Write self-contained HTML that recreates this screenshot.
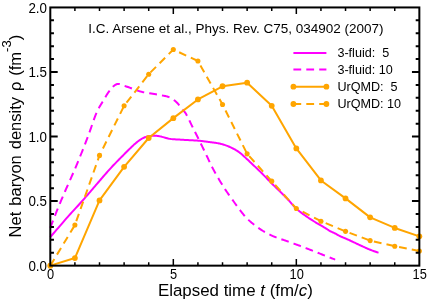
<!DOCTYPE html><html><head><meta charset="utf-8"><title>Net baryon density</title><style>html,body{margin:0;padding:0;background:#fff}svg{display:block}text{filter:grayscale(1)}text{font-family:"Liberation Sans",sans-serif;fill:#000}</style></head><body>
<svg width="429" height="303" viewBox="0 0 429 303">
<rect width="429" height="303" fill="#fff"/>
<g fill="none" stroke-linejoin="round" stroke-width="2.00">
<path d="M50.30 237.05 L51.17 236.05 L52.27 234.77 L53.57 233.26 L55.03 231.56 L56.61 229.72 L58.28 227.78 L60.00 225.79 L61.73 223.79 L63.43 221.83 L65.07 219.94 L66.61 218.18 L68.01 216.59 L69.31 215.14 L70.57 213.75 L71.78 212.41 L72.96 211.13 L74.12 209.88 L75.26 208.65 L76.38 207.44 L77.50 206.23 L78.62 205.01 L79.74 203.78 L80.88 202.52 L82.04 201.23 L83.21 199.90 L84.38 198.57 L85.54 197.22 L86.71 195.87 L87.88 194.51 L89.05 193.14 L90.22 191.78 L91.39 190.41 L92.56 189.04 L93.72 187.68 L94.89 186.32 L96.06 184.96 L97.23 183.61 L98.40 182.24 L99.57 180.87 L100.75 179.50 L101.92 178.13 L103.09 176.76 L104.26 175.41 L105.43 174.06 L106.60 172.72 L107.76 171.40 L108.93 170.10 L110.09 168.82 L111.25 167.56 L112.43 166.31 L113.61 165.06 L114.79 163.83 L115.97 162.61 L117.14 161.40 L118.31 160.21 L119.46 159.05 L120.60 157.90 L121.71 156.78 L122.80 155.69 L123.86 154.62 L124.90 153.58 L125.93 152.55 L126.95 151.53 L127.95 150.53 L128.93 149.55 L129.89 148.60 L130.83 147.67 L131.76 146.79 L132.65 145.94 L133.52 145.13 L134.37 144.36 L135.18 143.65 L135.96 142.99 L136.70 142.37 L137.42 141.80 L138.10 141.27 L138.76 140.78 L139.39 140.32 L140.02 139.89 L140.63 139.49 L141.24 139.11 L141.84 138.76 L142.44 138.42 L143.05 138.10 L143.66 137.80 L144.24 137.53 L144.81 137.29 L145.37 137.08 L145.92 136.89 L146.47 136.72 L147.02 136.57 L147.57 136.44 L148.14 136.32 L148.72 136.22 L149.32 136.12 L149.94 136.03 L150.58 135.95 L151.21 135.88 L151.85 135.82 L152.49 135.78 L153.15 135.74 L153.82 135.73 L154.50 135.73 L155.21 135.75 L155.94 135.79 L156.70 135.85 L157.49 135.93 L158.31 136.03 L159.18 136.18 L160.09 136.37 L161.05 136.59 L162.04 136.85 L163.05 137.12 L164.08 137.41 L165.11 137.69 L166.15 137.97 L167.17 138.24 L168.18 138.49 L169.17 138.70 L170.12 138.87 L171.02 139.01 L171.87 139.12 L172.69 139.21 L173.48 139.28 L174.26 139.33 L175.05 139.37 L175.86 139.41 L176.71 139.45 L177.60 139.49 L178.55 139.53 L179.58 139.58 L180.70 139.65 L181.94 139.73 L183.31 139.81 L184.79 139.89 L186.34 139.97 L187.94 140.06 L189.55 140.15 L191.17 140.24 L192.74 140.33 L194.26 140.42 L195.69 140.51 L197.00 140.59 L198.17 140.68 L199.19 140.77 L200.08 140.85 L200.88 140.93 L201.59 141.01 L202.24 141.09 L202.86 141.17 L203.45 141.25 L204.03 141.33 L204.64 141.42 L205.29 141.51 L205.99 141.61 L206.78 141.71 L207.63 141.82 L208.54 141.93 L209.49 142.05 L210.46 142.16 L211.45 142.28 L212.45 142.41 L213.45 142.54 L214.44 142.67 L215.41 142.81 L216.35 142.95 L217.25 143.11 L218.09 143.26 L218.90 143.42 L219.66 143.59 L220.39 143.75 L221.10 143.92 L221.79 144.10 L222.46 144.28 L223.12 144.47 L223.78 144.67 L224.44 144.88 L225.10 145.10 L225.77 145.34 L226.46 145.59 L227.17 145.86 L227.89 146.15 L228.63 146.46 L229.37 146.78 L230.11 147.12 L230.84 147.46 L231.57 147.80 L232.27 148.15 L232.96 148.49 L233.62 148.82 L234.24 149.15 L234.82 149.46 L235.37 149.75 L235.86 150.03 L236.32 150.30 L236.76 150.56 L237.17 150.81 L237.56 151.07 L237.95 151.33 L238.33 151.60 L238.72 151.89 L239.12 152.19 L239.55 152.51 L239.99 152.86 L240.43 153.20 L240.84 153.53 L241.23 153.85 L241.60 154.17 L241.99 154.51 L242.39 154.86 L242.82 155.26 L243.30 155.69 L243.83 156.19 L244.43 156.75 L245.12 157.38 L245.90 158.11 L246.78 158.93 L247.76 159.85 L248.83 160.85 L249.97 161.91 L251.16 163.03 L252.40 164.20 L253.67 165.40 L254.95 166.61 L256.22 167.83 L257.49 169.05 L258.73 170.24 L259.92 171.41 L261.11 172.58 L262.34 173.81 L263.60 175.08 L264.87 176.36 L266.14 177.65 L267.39 178.94 L268.62 180.19 L269.82 181.41 L270.96 182.58 L272.03 183.68 L273.03 184.69 L273.94 185.61 L274.75 186.41 L275.47 187.12 L276.11 187.74 L276.68 188.30 L277.20 188.79 L277.68 189.26 L278.14 189.69 L278.59 190.12 L279.05 190.56 L279.52 191.02 L280.03 191.51 L280.59 192.06 L281.17 192.65 L281.77 193.24 L282.37 193.83 L282.97 194.44 L283.59 195.05 L284.20 195.67 L284.82 196.29 L285.44 196.93 L286.07 197.57 L286.70 198.22 L287.33 198.88 L287.97 199.55 L288.60 200.24 L289.23 200.95 L289.87 201.67 L290.50 202.41 L291.14 203.16 L291.78 203.91 L292.43 204.66 L293.09 205.41 L293.76 206.15 L294.44 206.87 L295.13 207.57 L295.84 208.25 L296.57 208.91 L297.31 209.56 L298.06 210.20 L298.83 210.82 L299.61 211.44 L300.39 212.05 L301.19 212.65 L301.98 213.24 L302.78 213.83 L303.59 214.41 L304.39 214.98 L305.19 215.56 L305.99 216.13 L306.80 216.69 L307.61 217.24 L308.43 217.79 L309.24 218.34 L310.07 218.87 L310.89 219.40 L311.71 219.93 L312.54 220.46 L313.37 220.98 L314.20 221.50 L315.03 222.01 L315.88 222.54 L316.76 223.07 L317.66 223.60 L318.57 224.14 L319.48 224.67 L320.38 225.19 L321.27 225.71 L322.13 226.20 L322.95 226.68 L323.73 227.13 L324.46 227.56 L325.12 227.95 L325.71 228.31 L326.24 228.64 L326.71 228.94 L327.13 229.22 L327.52 229.48 L327.89 229.72 L328.23 229.95 L328.57 230.17 L328.91 230.39 L329.27 230.61 L329.64 230.82 L330.04 231.05 L330.46 231.28 L330.89 231.50 L331.33 231.71 L331.76 231.91 L332.20 232.11 L332.64 232.31 L333.08 232.51 L333.51 232.70 L333.94 232.90 L334.37 233.10 L334.79 233.30 L335.21 233.50 L335.61 233.72 L336.01 233.93 L336.40 234.15 L336.78 234.37 L337.16 234.59 L337.54 234.81 L337.92 235.03 L338.30 235.25 L338.69 235.46 L339.08 235.68 L339.48 235.88 L339.88 236.09 L340.30 236.28 L340.72 236.47 L341.14 236.66 L341.58 236.85 L342.01 237.03 L342.45 237.21 L342.89 237.39 L343.33 237.56 L343.76 237.74 L344.20 237.92 L344.62 238.10 L345.05 238.28 L345.45 238.46 L345.82 238.62 L346.17 238.77 L346.52 238.92 L346.85 239.06 L347.20 239.22 L347.56 239.38 L347.95 239.55 L348.38 239.75 L348.85 239.96 L349.38 240.20 L349.97 240.48 L350.63 240.78 L351.35 241.13 L352.13 241.50 L352.95 241.89 L353.81 242.30 L354.69 242.72 L355.59 243.15 L356.50 243.59 L357.41 244.02 L358.31 244.44 L359.20 244.86 L360.06 245.25 L360.90 245.64 L361.76 246.03 L362.62 246.42 L363.48 246.82 L364.35 247.21 L365.21 247.60 L366.06 247.98 L366.91 248.35 L367.74 248.71 L368.56 249.06 L369.36 249.40 L370.14 249.72 L370.93 250.03 L371.73 250.34 L372.55 250.65 L373.37 250.95 L374.17 251.23 L374.96 251.51 L375.70 251.77 L376.40 252.01 L377.05 252.23 L377.62 252.43 L378.11 252.60 L378.51 252.74" stroke="#ff00ff"/>
<path d="M50.30 227.82 L50.66 226.90 L51.10 225.75 L51.62 224.39 L52.20 222.87 L52.84 221.22 L53.51 219.46 L54.21 217.65 L54.93 215.81 L55.65 213.97 L56.35 212.18 L57.03 210.46 L57.68 208.85 L58.30 207.33 L58.90 205.86 L59.49 204.43 L60.08 203.02 L60.67 201.61 L61.26 200.20 L61.87 198.76 L62.50 197.29 L63.15 195.77 L63.83 194.18 L64.55 192.52 L65.31 190.77 L66.11 188.93 L66.95 187.02 L67.83 185.05 L68.73 183.03 L69.66 180.95 L70.61 178.83 L71.57 176.68 L72.54 174.49 L73.51 172.28 L74.48 170.06 L75.44 167.83 L76.38 165.60 L77.32 163.33 L78.28 161.00 L79.26 158.61 L80.24 156.19 L81.22 153.75 L82.20 151.30 L83.17 148.85 L84.13 146.43 L85.06 144.04 L85.97 141.69 L86.85 139.41 L87.70 137.20 L88.51 135.02 L89.29 132.86 L90.05 130.70 L90.79 128.56 L91.51 126.46 L92.21 124.41 L92.90 122.40 L93.57 120.47 L94.23 118.60 L94.89 116.82 L95.54 115.14 L96.19 113.57 L96.82 112.12 L97.44 110.79 L98.04 109.56 L98.64 108.43 L99.22 107.37 L99.79 106.37 L100.36 105.42 L100.92 104.49 L101.49 103.59 L102.05 102.67 L102.62 101.75 L103.20 100.79 L103.77 99.81 L104.35 98.83 L104.92 97.85 L105.49 96.89 L106.06 95.94 L106.63 95.01 L107.20 94.10 L107.78 93.22 L108.35 92.37 L108.93 91.56 L109.50 90.80 L110.09 90.07 L110.67 89.38 L111.24 88.70 L111.81 88.05 L112.37 87.41 L112.94 86.81 L113.52 86.25 L114.10 85.74 L114.69 85.28 L115.29 84.87 L115.92 84.53 L116.56 84.26 L117.22 84.07 L117.91 83.97 L118.62 83.97 L119.34 84.05 L120.08 84.20 L120.84 84.41 L121.60 84.66 L122.38 84.95 L123.16 85.26 L123.95 85.58 L124.74 85.89 L125.53 86.19 L126.32 86.46 L127.12 86.72 L127.94 87.01 L128.77 87.31 L129.61 87.62 L130.46 87.94 L131.31 88.27 L132.15 88.60 L132.99 88.92 L133.81 89.23 L134.62 89.53 L135.40 89.81 L136.17 90.07 L136.87 90.31 L137.52 90.53 L138.11 90.73 L138.67 90.93 L139.22 91.11 L139.78 91.28 L140.36 91.46 L140.99 91.63 L141.67 91.81 L142.44 92.00 L143.30 92.19 L144.28 92.40 L145.42 92.62 L146.70 92.85 L148.11 93.09 L149.61 93.33 L151.17 93.58 L152.76 93.83 L154.35 94.07 L155.91 94.32 L157.41 94.56 L158.83 94.80 L160.12 95.02 L161.26 95.24 L162.26 95.44 L163.17 95.61 L163.99 95.77 L164.74 95.92 L165.43 96.07 L166.07 96.21 L166.68 96.37 L167.27 96.53 L167.84 96.72 L168.42 96.92 L169.01 97.16 L169.63 97.43 L170.26 97.73 L170.87 98.05 L171.48 98.39 L172.08 98.75 L172.66 99.13 L173.24 99.52 L173.81 99.93 L174.36 100.36 L174.91 100.80 L175.46 101.26 L175.99 101.73 L176.52 102.21 L177.04 102.72 L177.55 103.27 L178.06 103.85 L178.56 104.45 L179.05 105.06 L179.53 105.69 L180.00 106.31 L180.46 106.93 L180.91 107.53 L181.34 108.11 L181.77 108.67 L182.17 109.18 L182.55 109.63 L182.90 110.01 L183.21 110.34 L183.50 110.64 L183.79 110.92 L184.07 111.21 L184.35 111.52 L184.64 111.87 L184.96 112.28 L185.30 112.78 L185.68 113.37 L186.11 114.09 L186.58 114.93 L187.10 115.89 L187.64 116.95 L188.22 118.09 L188.81 119.29 L189.42 120.53 L190.03 121.80 L190.65 123.08 L191.26 124.35 L191.86 125.58 L192.44 126.78 L193.00 127.90 L193.54 128.97 L194.06 130.01 L194.57 131.03 L195.08 132.03 L195.58 133.02 L196.07 134.01 L196.57 135.00 L197.07 135.99 L197.58 137.00 L198.09 138.03 L198.61 139.08 L199.15 140.16 L199.70 141.28 L200.25 142.41 L200.81 143.57 L201.38 144.73 L201.96 145.92 L202.53 147.11 L203.11 148.31 L203.70 149.52 L204.28 150.73 L204.87 151.94 L205.45 153.16 L206.04 154.37 L206.61 155.57 L207.18 156.76 L207.73 157.95 L208.28 159.14 L208.83 160.34 L209.39 161.54 L209.96 162.76 L210.55 163.99 L211.16 165.24 L211.80 166.51 L212.47 167.81 L213.17 169.15 L213.93 170.53 L214.73 171.98 L215.57 173.47 L216.45 175.00 L217.34 176.55 L218.25 178.10 L219.16 179.65 L220.07 181.17 L220.97 182.66 L221.85 184.10 L222.70 185.47 L223.51 186.77 L224.29 188.00 L225.07 189.19 L225.83 190.34 L226.58 191.45 L227.32 192.52 L228.04 193.56 L228.76 194.57 L229.46 195.56 L230.14 196.52 L230.82 197.46 L231.48 198.38 L232.12 199.29 L232.73 200.17 L233.31 201.00 L233.87 201.79 L234.40 202.54 L234.91 203.27 L235.42 203.99 L235.94 204.70 L236.46 205.42 L236.99 206.14 L237.55 206.88 L238.14 207.65 L238.76 208.46 L239.41 209.30 L240.06 210.15 L240.72 211.03 L241.40 211.91 L242.09 212.81 L242.80 213.72 L243.53 214.62 L244.28 215.53 L245.07 216.44 L245.88 217.34 L246.73 218.23 L247.62 219.11 L248.55 219.99 L249.54 220.88 L250.56 221.78 L251.62 222.68 L252.71 223.58 L253.82 224.47 L254.95 225.35 L256.08 226.21 L257.21 227.05 L258.34 227.86 L259.45 228.64 L260.54 229.37 L261.61 230.07 L262.69 230.75 L263.77 231.39 L264.85 232.01 L265.92 232.61 L267.00 233.19 L268.08 233.74 L269.16 234.28 L270.23 234.80 L271.31 235.31 L272.38 235.81 L273.45 236.29 L274.52 236.76 L275.59 237.19 L276.66 237.61 L277.73 238.00 L278.79 238.38 L279.86 238.74 L280.92 239.10 L281.99 239.45 L283.05 239.80 L284.12 240.16 L285.18 240.52 L286.25 240.90 L287.31 241.28 L288.38 241.67 L289.44 242.05 L290.51 242.43 L291.58 242.81 L292.64 243.19 L293.71 243.57 L294.78 243.95 L295.84 244.34 L296.91 244.73 L297.97 245.12 L299.04 245.51 L300.11 245.91 L301.17 246.31 L302.24 246.71 L303.30 247.12 L304.37 247.52 L305.44 247.93 L306.50 248.34 L307.57 248.76 L308.64 249.17 L309.70 249.58 L310.77 250.00 L311.83 250.42 L312.91 250.84 L313.99 251.26 L315.08 251.70 L316.18 252.13 L317.28 252.57 L318.37 253.01 L319.45 253.44 L320.53 253.87 L321.58 254.29 L322.62 254.71 L323.64 255.11 L324.63 255.50 L325.62 255.89 L326.64 256.29 L327.68 256.70 L328.71 257.10 L329.73 257.50 L330.72 257.88 L331.66 258.25 L332.55 258.59 L333.36 258.90 L334.08 259.18 L334.70 259.43 L335.21 259.62" stroke="#ff00ff" stroke-dasharray="7.8 5.1"/>
<path d="M50.30 265.65 L74.90 258.03 L99.51 200.39 L124.11 166.82 L148.71 138.02 L173.32 118.15 L197.92 99.43 L222.52 86.27 L247.13 82.65 L271.73 105.82 L296.33 148.43 L320.94 180.44 L345.54 198.39 L370.14 217.37 L394.75 227.95 L419.35 236.34" stroke="#ffa500"/>
<path d="M50.30 265.65 L74.90 225.05 L99.51 155.40 L124.11 105.82 L148.71 74.19 L173.32 49.54 L197.92 61.03 L222.52 104.46 L247.13 153.85 L271.73 181.15 L296.33 208.46 L320.94 221.18 L345.54 231.37 L370.14 240.60 L394.75 246.21 L419.35 250.93" stroke="#ffa500" stroke-dasharray="7.8 5.1"/>
</g>
<g fill="#ffa500">
<circle cx="50.30" cy="265.65" r="2.90"/>
<circle cx="74.90" cy="258.03" r="2.90"/>
<circle cx="99.51" cy="200.39" r="2.90"/>
<circle cx="124.11" cy="166.82" r="2.90"/>
<circle cx="148.71" cy="138.02" r="2.90"/>
<circle cx="173.32" cy="118.15" r="2.90"/>
<circle cx="197.92" cy="99.43" r="2.90"/>
<circle cx="222.52" cy="86.27" r="2.90"/>
<circle cx="247.13" cy="82.65" r="2.90"/>
<circle cx="271.73" cy="105.82" r="2.90"/>
<circle cx="296.33" cy="148.43" r="2.90"/>
<circle cx="320.94" cy="180.44" r="2.90"/>
<circle cx="345.54" cy="198.39" r="2.90"/>
<circle cx="370.14" cy="217.37" r="2.90"/>
<circle cx="394.75" cy="227.95" r="2.90"/>
<circle cx="419.35" cy="236.34" r="2.90"/>
<circle cx="50.30" cy="265.65" r="2.55"/>
<circle cx="74.90" cy="225.05" r="2.55"/>
<circle cx="99.51" cy="155.40" r="2.55"/>
<circle cx="124.11" cy="105.82" r="2.55"/>
<circle cx="148.71" cy="74.19" r="2.55"/>
<circle cx="173.32" cy="49.54" r="2.55"/>
<circle cx="197.92" cy="61.03" r="2.55"/>
<circle cx="222.52" cy="104.46" r="2.55"/>
<circle cx="247.13" cy="153.85" r="2.55"/>
<circle cx="271.73" cy="181.15" r="2.55"/>
<circle cx="296.33" cy="208.46" r="2.55"/>
<circle cx="320.94" cy="221.18" r="2.55"/>
<circle cx="345.54" cy="231.37" r="2.55"/>
<circle cx="370.14" cy="240.60" r="2.55"/>
<circle cx="394.75" cy="246.21" r="2.55"/>
<circle cx="419.35" cy="250.93" r="2.55"/>
</g>
<rect x="50.30" y="7.45" width="369.05" height="258.20" fill="none" stroke="#000" stroke-width="2.00"/>
<path d="M74.90 265.65v-3.45M74.90 7.45v3.45M99.51 265.65v-3.45M99.51 7.45v3.45M124.11 265.65v-3.45M124.11 7.45v3.45M148.71 265.65v-3.45M148.71 7.45v3.45M173.32 265.65v-6.65M173.32 7.45v6.65M197.92 265.65v-3.45M197.92 7.45v3.45M222.52 265.65v-3.45M222.52 7.45v3.45M247.13 265.65v-3.45M247.13 7.45v3.45M271.73 265.65v-3.45M271.73 7.45v3.45M296.33 265.65v-6.65M296.33 7.45v6.65M320.94 265.65v-3.45M320.94 7.45v3.45M345.54 265.65v-3.45M345.54 7.45v3.45M370.14 265.65v-3.45M370.14 7.45v3.45M394.75 265.65v-3.45M394.75 7.45v3.45" fill="none" stroke="#000" stroke-width="1.5"/>
<path d="M50.30 252.74h3.65M419.35 252.74h-3.65M50.30 239.83h3.65M419.35 239.83h-3.65M50.30 226.92h3.65M419.35 226.92h-3.65M50.30 214.01h3.65M419.35 214.01h-3.65M50.30 201.10h7.40M419.35 201.10h-7.40M50.30 188.19h3.65M419.35 188.19h-3.65M50.30 175.28h3.65M419.35 175.28h-3.65M50.30 162.37h3.65M419.35 162.37h-3.65M50.30 149.46h3.65M419.35 149.46h-3.65M50.30 136.55h7.40M419.35 136.55h-7.40M50.30 123.64h3.65M419.35 123.64h-3.65M50.30 110.73h3.65M419.35 110.73h-3.65M50.30 97.82h3.65M419.35 97.82h-3.65M50.30 84.91h3.65M419.35 84.91h-3.65M50.30 72.00h7.40M419.35 72.00h-7.40M50.30 59.09h3.65M419.35 59.09h-3.65M50.30 46.18h3.65M419.35 46.18h-3.65M50.30 33.27h3.65M419.35 33.27h-3.65M50.30 20.36h3.65M419.35 20.36h-3.65" fill="none" stroke="#000" stroke-width="2"/>
<g font-size="13.80">
<text transform="translate(47.00 270.85) scale(0.970 1)" text-anchor="end">0.0</text>
<text transform="translate(47.00 206.30) scale(0.970 1)" text-anchor="end">0.5</text>
<text transform="translate(47.00 141.75) scale(0.970 1)" text-anchor="end">1.0</text>
<text transform="translate(47.00 77.20) scale(0.970 1)" text-anchor="end">1.5</text>
<text transform="translate(47.00 12.65) scale(0.970 1)" text-anchor="end">2.0</text>
<text transform="translate(50.60 278.75) scale(0.930 1)" text-anchor="middle">0</text>
<text transform="translate(173.62 278.75) scale(0.930 1)" text-anchor="middle">5</text>
<text transform="translate(296.63 278.75) scale(0.930 1)" text-anchor="middle">10</text>
<text transform="translate(419.65 278.75) scale(0.930 1)" text-anchor="middle">15</text>
</g>
<text x="235.40" y="296.20" font-size="16.90" text-anchor="middle">Elapsed time <tspan font-style="italic">t</tspan> (fm/<tspan font-style="italic">c</tspan>)</text>
<text transform="translate(21.40 136.00) rotate(-90)" font-size="16.55" word-spacing="1.3" text-anchor="middle">Net baryon density ρ (fm<tspan font-size="13.20" dy="-10.8">-3</tspan><tspan dy="10.8">)</tspan></text>
<text x="88.20" y="33.40" font-size="13.50">I.C. Arsene et al., Phys. Rev. C75, 034902 (2007)</text>
<g fill="none" stroke-width="2.00">
<path d="M293.40 52.90H326.40" stroke="#ff00ff"/>
<path d="M293.40 69.60H326.40" stroke="#ff00ff" stroke-dasharray="7.8 5.1"/>
<path d="M293.40 86.70H326.40" stroke="#ffa500"/>
<path d="M293.40 104.00H326.40" stroke="#ffa500" stroke-dasharray="7.8 5.1"/>
</g>
<g fill="#ffa500">
<circle cx="293.40" cy="86.70" r="2.90"/>
<circle cx="326.40" cy="86.70" r="2.90"/>
<circle cx="293.40" cy="104.00" r="2.90"/>
<circle cx="326.40" cy="104.00" r="2.90"/>
</g>
<g font-size="12.60">
<text x="337.4" y="57.00" xml:space="preserve" style="white-space:pre">3-fluid:  5</text>
<text x="337.4" y="73.70" xml:space="preserve" style="white-space:pre">3-fluid: 10</text>
<text x="337.4" y="90.80" xml:space="preserve" style="white-space:pre">UrQMD:  5</text>
<text x="337.4" y="108.10" xml:space="preserve" style="white-space:pre">UrQMD: 10</text>
</g>
</svg></body></html>
